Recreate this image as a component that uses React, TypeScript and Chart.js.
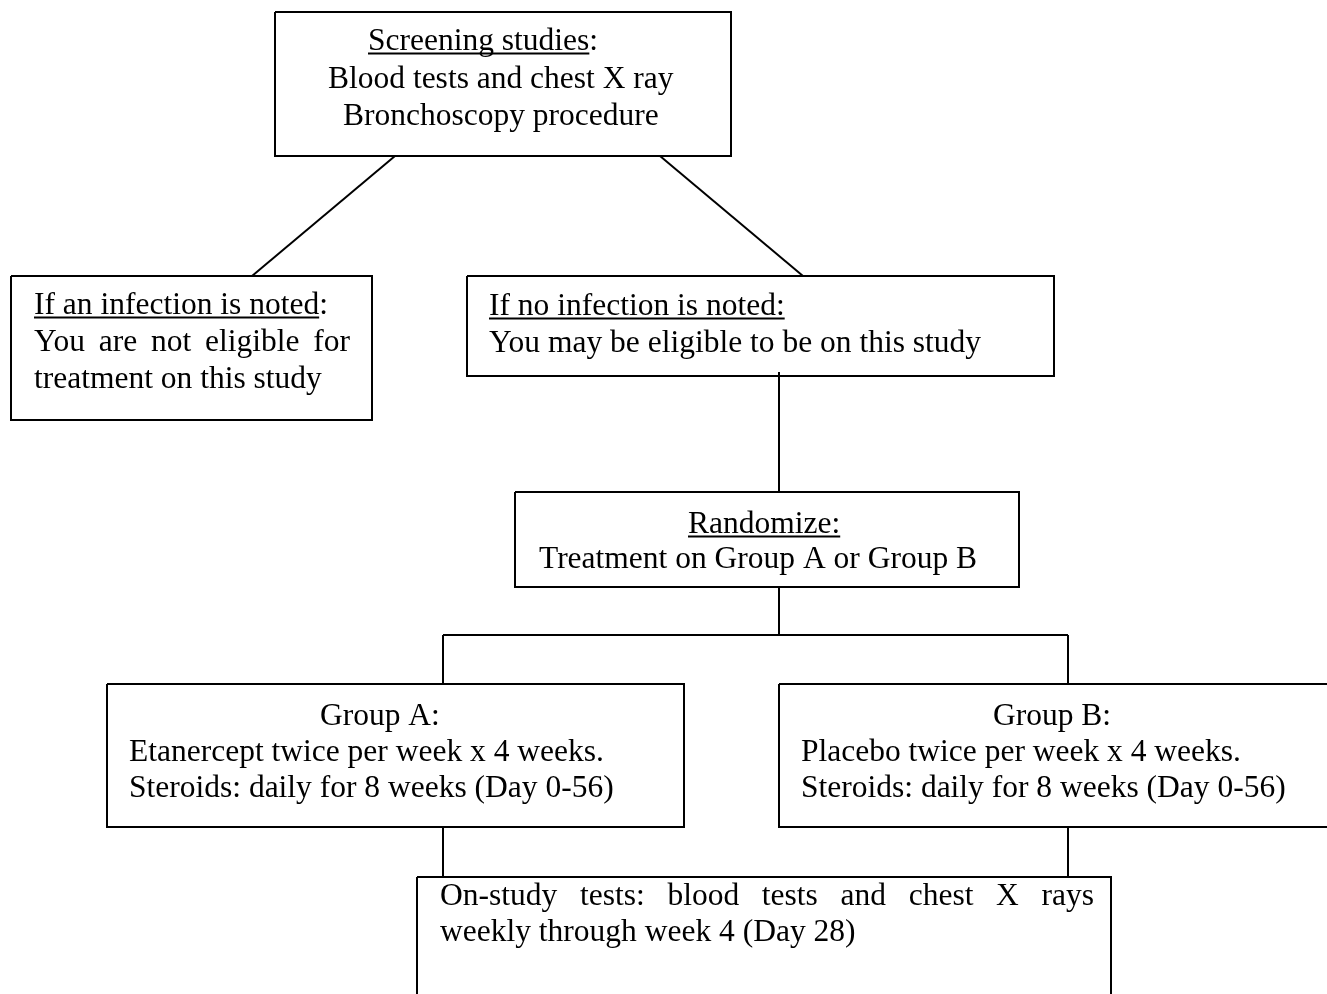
import React, { useEffect, useRef } from "react";
import { Chart, registerables } from "chart.js";

Chart.register(...registerables);

// Diagram space: 0..1327 horizontally, 0..994 vertically (top = 0)
const boxLeft = [275, 11, 467, 515, 107, 779, 417];
const boxTop = [12, 276, 276, 492, 684, 684, 877];
const boxRight = [731, 372, 1054, 1019, 684, 1332, 1111];
const boxBottom = [156, 420, 376, 587, 827, 827, 1000];

const linkX1 = [395, 660, 779, 779, 443, 443, 1068, 443, 1068];
const linkY1 = [156, 156, 372, 587, 635, 635, 635, 827, 827];
const linkX2 = [252, 803, 779, 779, 1068, 443, 1068, 443, 1068];
const linkY2 = [276, 276, 492, 635, 635, 684, 684, 877, 877];

const lineTexts = [
  "Screening studies:",
  "Blood tests and chest X ray",
  "Bronchoscopy procedure",
  "If an infection is noted:",
  "You are not eligible for",
  "treatment on this study",
  "If no infection is noted:",
  "You may be eligible to be on this study",
  "Randomize:",
  "Treatment on Group A or Group B",
  "Group A:",
  "Etanercept twice per week x 4 weeks.",
  "Steroids: daily for 8 weeks (Day 0-56)",
  "Group B:",
  "Placebo twice per week x 4 weeks.",
  "Steroids: daily for 8 weeks (Day 0-56)",
  "On-study tests: blood tests and chest X rays",
  "weekly through week 4 (Day 28)",
];
const lineX = [368, 328, 343, 34, 34, 34, 489, 489, 688, 539, 320, 129, 129, 993, 801, 801, 440, 440];
const lineBase = [50, 88, 125, 314, 351, 388, 315, 352, 533, 568, 725, 761, 797, 725, 761, 797, 905, 941];
const lineJustifyTo = [0, 0, 0, 0, 350, 0, 0, 0, 0, 0, 0, 0, 0, 0, 0, 0, 1094, 0];
const lineUnderline = [17, 0, 0, 24, 0, 0, 25, 0, 10, 0, 0, 0, 0, 0, 0, 0, 0, 0];

const FONT = '31.5px "Liberation Serif", "Times New Roman", serif';

const textPlugin = {
  id: "flowText",
  afterDatasetsDraw(chart: any) {
    const ctx = chart.ctx as CanvasRenderingContext2D;
    const xs = chart.scales.x;
    const ys = chart.scales.y;
    ctx.save();
    ctx.font = FONT;
    ctx.fillStyle = "#000";
    ctx.textBaseline = "alphabetic";
    ctx.textAlign = "left";
    lineTexts.forEach((t, i) => {
      const px = xs.getPixelForValue(lineX[i]);
      const py = ys.getPixelForValue(lineBase[i]);
      if (lineJustifyTo[i]) {
        const words = t.split(" ");
        const target = xs.getPixelForValue(lineJustifyTo[i]) - px;
        const widths = words.map((w) => ctx.measureText(w).width);
        const total = widths.reduce((a, b) => a + b, 0);
        const gap = (target - total) / (words.length - 1);
        let cx = px;
        words.forEach((w, k) => {
          ctx.fillText(w, cx, py);
          cx += widths[k] + gap;
        });
      } else {
        ctx.fillText(t, px, py);
      }
      if (lineUnderline[i]) {
        const uw = ctx.measureText(t.slice(0, lineUnderline[i])).width;
        ctx.fillRect(px, py + 2.5, uw, 2);
      }
    });
    ctx.restore();
  },
};

export default function App() {
  const canvasRef = useRef<HTMLCanvasElement | null>(null);

  useEffect(() => {
    if (!canvasRef.current) return;
    const datasets: any[] = [];
    boxLeft.forEach((l, i) => {
      datasets.push({
        data: [
          { x: l, y: boxTop[i] },
          { x: boxRight[i], y: boxTop[i] },
          { x: boxRight[i], y: boxBottom[i] },
          { x: l, y: boxBottom[i] },
          { x: l, y: boxTop[i] },
        ],
        showLine: true,
        borderColor: "#000",
        borderWidth: 2,
        pointRadius: 0,
        fill: false,
        tension: 0,
        borderJoinStyle: "miter",
        clip: false,
      });
    });
    linkX1.forEach((x1, i) => {
      datasets.push({
        data: [
          { x: x1, y: linkY1[i] },
          { x: linkX2[i], y: linkY2[i] },
        ],
        showLine: true,
        borderColor: "#000",
        borderWidth: 2,
        pointRadius: 0,
        fill: false,
        tension: 0,
        clip: false,
      });
    });
    const chart = new Chart(canvasRef.current, {
      type: "scatter",
      data: { datasets },
      options: {
        animation: false,
        responsive: true,
        maintainAspectRatio: false,
        layout: { padding: 0 },
        events: [],
        plugins: { legend: { display: false }, tooltip: { enabled: false } },
        scales: {
          x: { type: "linear", min: 0, max: 1327, display: false },
          y: { type: "linear", min: 0, max: 994, reverse: true, display: false },
        },
      },
      plugins: [textPlugin],
    });
    return () => chart.destroy();
  }, []);

  return (
    <div style={{ position: "fixed", left: 0, top: 0, width: 1327, height: 994, background: "#fff" }}>
      <canvas ref={canvasRef} />
    </div>
  );
}
